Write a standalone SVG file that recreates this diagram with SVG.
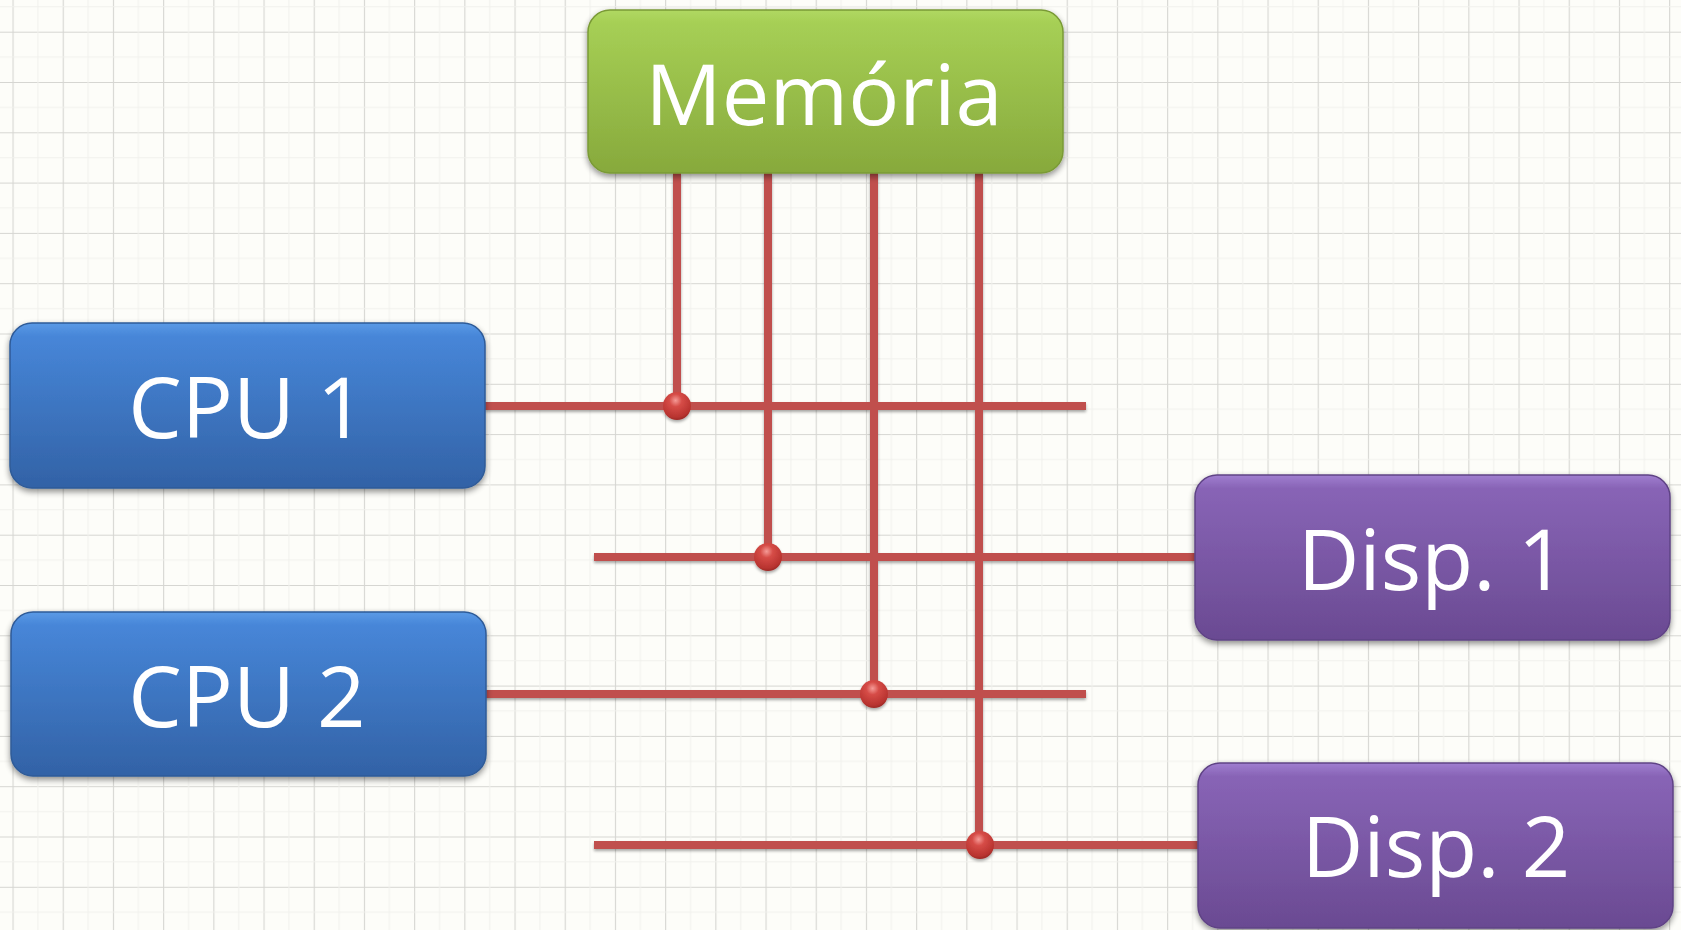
<svg xmlns="http://www.w3.org/2000/svg" width="1681" height="930" viewBox="0 0 1681 930">
<defs>
<pattern id="grid" patternUnits="userSpaceOnUse" x="12.5" y="31.7" width="50.2" height="50.3">
<rect width="50.2" height="50.3" fill="#fdfdf9"/>
<path d="M0.5 0 V50.3 M0 0.5 H50.2" stroke="#d6d6d2" stroke-width="1.2" fill="none"/>
<path d="M25.5 0 V50.3 M0 25.5 H50.2" stroke="#f1f1ed" stroke-width="1" fill="none"/>
</pattern>
<linearGradient id="gGreen" x1="0" y1="0" x2="0" y2="1">
<stop offset="0" stop-color="#b0d862"/><stop offset="0.08" stop-color="#a6cf55"/><stop offset="1" stop-color="#87a93c"/>
</linearGradient>
<linearGradient id="gBlue" x1="0" y1="0" x2="0" y2="1">
<stop offset="0" stop-color="#5b9ae6"/><stop offset="0.08" stop-color="#4786d8"/><stop offset="1" stop-color="#3262a6"/>
</linearGradient>
<linearGradient id="gPurple" x1="0" y1="0" x2="0" y2="1">
<stop offset="0" stop-color="#a07ed0"/><stop offset="0.08" stop-color="#8864b6"/><stop offset="1" stop-color="#6a4a92"/>
</linearGradient>
<radialGradient id="gDot" cx="0.45" cy="0.3" r="0.75">
<stop offset="0" stop-color="#f59a96"/><stop offset="0.3" stop-color="#d64c47"/><stop offset="0.8" stop-color="#b8332f"/><stop offset="1" stop-color="#8e2522"/>
</radialGradient>
<filter id="shadow" x="-10%" y="-10%" width="120%" height="130%">
<feGaussianBlur in="SourceAlpha" stdDeviation="3"/>
<feOffset dx="0" dy="3" result="b"/>
<feComponentTransfer><feFuncA type="linear" slope="0.45"/></feComponentTransfer>
<feMerge><feMergeNode/><feMergeNode in="SourceGraphic"/></feMerge>
</filter>
<filter id="lshadow" x="-5%" y="-5%" width="110%" height="110%">
<feGaussianBlur in="SourceAlpha" stdDeviation="1.5"/>
<feOffset dx="0" dy="2" result="b"/>
<feComponentTransfer><feFuncA type="linear" slope="0.35"/></feComponentTransfer>
<feMerge><feMergeNode/><feMergeNode in="SourceGraphic"/></feMerge>
</filter>
</defs>
<style>
.box { stroke-width: 1.5; filter: url(#shadow); }
.green { fill: url(#gGreen); stroke: #7a9a36; }
.blue { fill: url(#gBlue); stroke: #2f5b98; }
.purple { fill: url(#gPurple); stroke: #5f4385; }
.lbl { font-family: "Open Sans", "Liberation Sans", sans-serif; font-size: 85px; fill: #ffffff; text-anchor: middle; }
.bus { stroke: #c0504d; stroke-width: 8; fill: none; }
.dot { fill: url(#gDot); }
</style>
<rect width="1681" height="930" fill="url(#grid)"/>

<g id="connectors" filter="url(#lshadow)">
<line class="bus" x1="677" y1="173" x2="677" y2="406"/>
<line class="bus" x1="768" y1="173" x2="768" y2="557"/>
<line class="bus" x1="874" y1="173" x2="874" y2="694"/>
<line class="bus" x1="979" y1="173" x2="979" y2="845"/>
<line class="bus" x1="485" y1="406" x2="1086" y2="406"/>
<line class="bus" x1="594" y1="557" x2="1196" y2="557"/>
<line class="bus" x1="485" y1="694" x2="1086" y2="694"/>
<line class="bus" x1="594" y1="845" x2="1199" y2="845"/>
<circle class="dot" cx="677" cy="406" r="14"/>
<circle class="dot" cx="768" cy="557" r="14"/>
<circle class="dot" cx="874" cy="694" r="14"/>
<circle class="dot" cx="980" cy="845" r="14"/>
</g>

<g id="memoria">
<rect class="box green" x="588" y="10" width="475" height="163" rx="22"/>
<text class="lbl" x="824" y="125">Memória</text>
</g>
<g id="cpu1">
<rect class="box blue" x="10" y="323" width="475" height="165" rx="22"/>
<text class="lbl" x="247" y="438">CPU 1</text>
</g>
<g id="cpu2">
<rect class="box blue" x="11" y="612" width="475" height="164" rx="22"/>
<text class="lbl" x="247" y="727">CPU 2</text>
</g>
<g id="disp1">
<rect class="box purple" x="1195" y="475" width="475" height="165" rx="22"/>
<text class="lbl" x="1432" y="590">Disp. 1</text>
</g>
<g id="disp2">
<rect class="box purple" x="1198" y="763" width="475" height="165" rx="22"/>
<text class="lbl" x="1436" y="877">Disp. 2</text>
</g>
</svg>
